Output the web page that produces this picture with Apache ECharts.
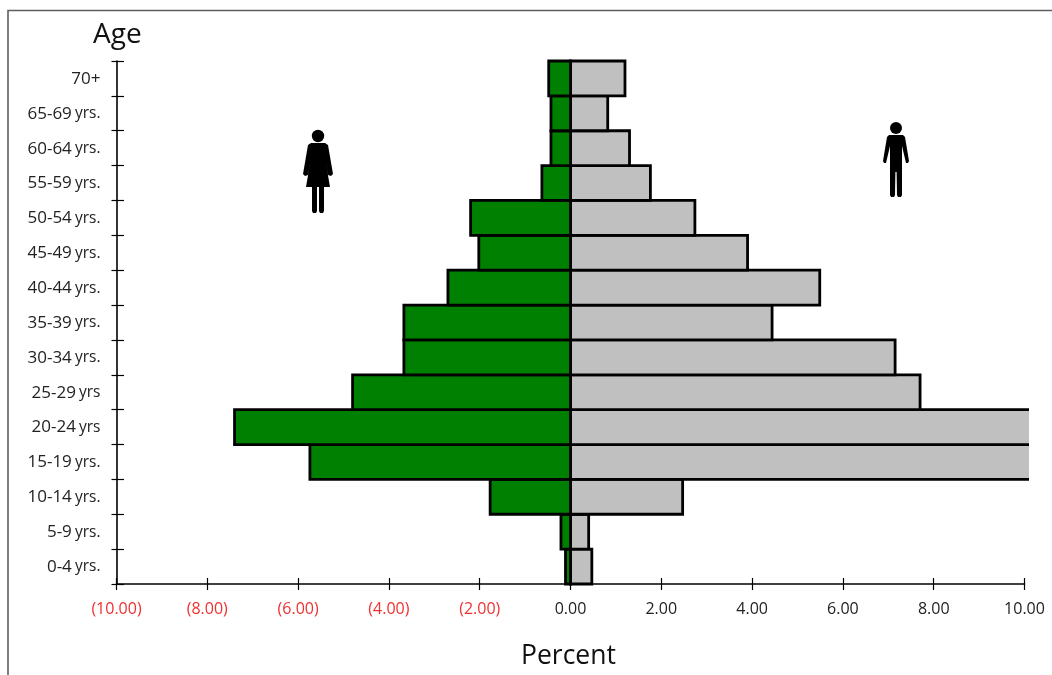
<!DOCTYPE html>
<html><head><meta charset="utf-8">
<style>html,body{margin:0;padding:0;background:#fff}#c{width:1052px;height:675px}</style>
<script src="https://cdn.jsdelivr.net/npm/echarts@6/dist/echarts.min.js"></script>
</head><body><div id="c"></div>
<script>
const ageLabels = ['0-4 yrs.','5-9 yrs.','10-14 yrs.','15-19 yrs.','20-24 yrs','25-29 yrs','30-34 yrs.','35-39 yrs.','40-44 yrs.','45-49 yrs.','50-54 yrs.','55-59 yrs.','60-64 yrs.','65-69 yrs.','70+'];
const female = [-0.11,-0.21,-1.77,-5.74,-7.40,-4.80,-3.67,-3.67,-2.70,-2.02,-2.20,-0.63,-0.43,-0.43,-0.48];
const male = [0.47,0.40,2.47,10.3,10.3,7.70,7.15,4.44,5.49,3.90,2.74,1.76,1.30,0.82,1.20];
const FONT = '"Open Sans","Noto Sans",sans-serif';
const ink = '#000';
const chart = echarts.init(document.getElementById('c'), null, {renderer:'canvas'});
const G = {left:116.5, right:1052-1024.5, top:61, bottom:675-584};
const fmtX = v => v < 0 ? '{n|(' + Math.abs(v).toFixed(2) + ')}' : '{p|' + v.toFixed(2) + '}';
const fmtY = s => { const m = s.split(' '); return m.length > 1 ? '{a|' + m[0] + '} {b|' + m[1] + '}' : '{a|' + s + '}'; };
const line = {show:true, onZero:false, lineStyle:{color:ink, width:1.6}};
// Full-band rectangles, placed by the axes' own scales.
const barSeries = (name, values, fill, z) => ({
  name, type:'custom', z, coordinateSystem:'cartesian2d', clip:false,
  encode:{x:0, y:1},
  data:values.map((v, i) => [v, i]),
  renderItem:(params, api) => {
    const end = api.coord([api.value(0), api.value(1)]);
    const zero = api.coord([0, api.value(1)]);
    const h = api.size([0, 1])[1];
    return {type:'rect',
      shape:{x:Math.min(zero[0], end[0]), y:end[1]-h/2, width:Math.abs(end[0]-zero[0]), height:h},
      style:{fill, stroke:ink, lineWidth:2.8}};
  }
});
chart.setOption({
  animation:false,
  backgroundColor:'#fff',
  textStyle:{fontFamily:FONT},
  grid:G,
  xAxis:[
    {type:'value', position:'bottom', min:-10, max:10, interval:2, splitLine:{show:false},
     axisLine:line, axisTick:{show:false},
     axisLabel:{margin:17, formatter:fmtX, hideOverlap:false,
       rich:{n:{color:'#f03030', fontSize:16, fontFamily:FONT}, p:{color:'#222', fontSize:16, fontFamily:FONT}}}},
    {type:'value', position:'bottom', offset:-6, min:-10, max:10, interval:2, splitLine:{show:false},
     axisLine:{show:false, onZero:false}, axisTick:{show:true, length:12, lineStyle:{color:ink, width:1.2}},
     axisLabel:{show:false}}
  ],
  yAxis:[
    {type:'category', position:'left', data:ageLabels, axisLine:line,
     axisTick:{show:false},
     axisLabel:{margin:16, interval:0, align:'right', formatter:fmtY,
       rich:{a:{color:'#222', fontSize:17, fontFamily:FONT, padding:[1,0,0,0]}, b:{color:'#222', fontSize:15.5, fontFamily:FONT, padding:[1,0,0,0]}}}},
    // one tick per band edge, crossing the axis line
    {type:'value', position:'left', offset:-7.5, min:0, max:ageLabels.length, interval:1, splitLine:{show:false},
     axisLine:{show:false, onZero:false},
     axisTick:{show:true, length:12.5, lineStyle:{color:ink, width:1.2}},
     axisLabel:{show:false}}
  ],
  series:[
    barSeries('Male', male, '#c0c0c0', 2),
    barSeries('Female', female, '#008000', 3)
  ],
  graphic:[
    // the reference's bars are cut off just past the axis end
    {type:'rect', z:50, shape:{x:1029, y:395, width:23, height:95}, style:{fill:'#fff'}},
    // picture frame
    {type:'polyline', z:60, shape:{points:[[8,675],[8,10.5],[1052,10.5]]}, style:{fill:null, stroke:'#5f5f5f', lineWidth:1.6}},
    // axis titles
    {type:'text', z:60, left:93, top:21, style:{text:'Age', font:'28px '+FONT, fill:'#111'}},
    {type:'text', z:60, left:521, top:643, style:{text:'Percent', font:'26.5px '+FONT, fill:'#111'}},
    // female figure
    {type:'circle', z:60, shape:{cx:318, cy:136, r:6.2}, style:{fill:ink}},
    {type:'polygon', z:60, shape:{points:[[311,143],[325,143],[328,145],[333,174],[331,176],[328,175],[325,158],[330,187],[324,187],[324,211],[323,213],[320,213],[319,211],[319,187],[317,187],[317,211],[316,213],[313,213],[312,211],[312,187],[306,187],[311,158],[308,175],[305,176],[303,174],[308,145]]}, style:{fill:ink}},
    // male figure
    {type:'circle', z:60, shape:{cx:896, cy:128, r:6}, style:{fill:ink}},
    {type:'polygon', z:60, shape:{points:[[889,135],[903,135],[905,137],[909,161],[908,163],[906,163],[902,146],[902,195],[901,197],[898,197],[897,195],[896.6,172],[895.4,172],[895,195],[894,197],[891,197],[890,195],[890,146],[886,163],[884,163],[883,161],[887,137]]}, style:{fill:ink}}
  ]
});
</script></body></html>
